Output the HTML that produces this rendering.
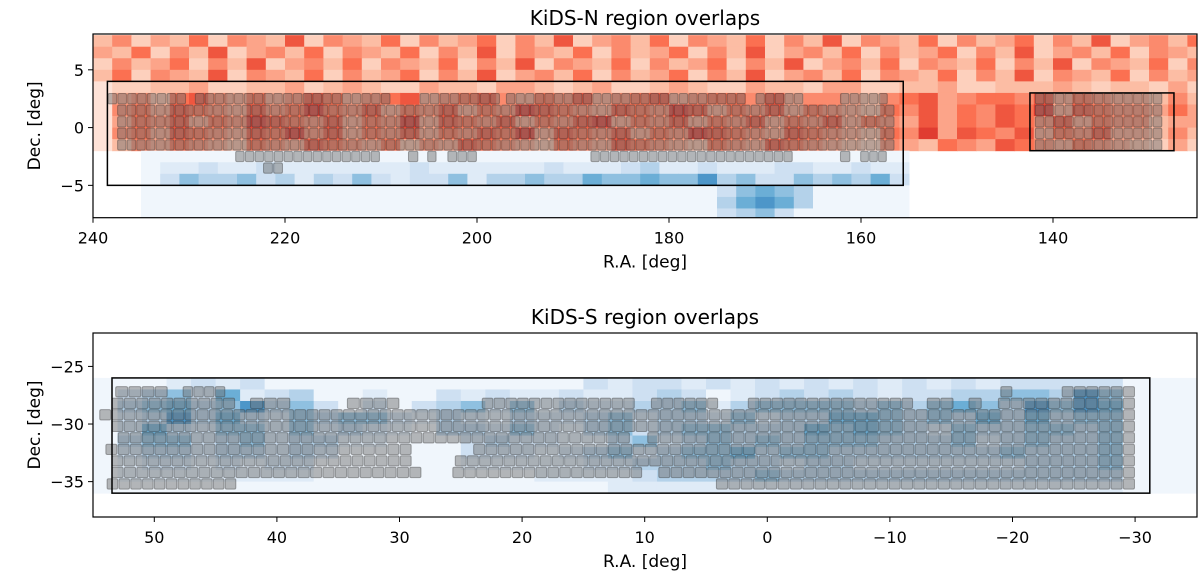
<!DOCTYPE html>
<html><head><meta charset="utf-8"><style>
body{margin:0;background:#fff;width:1200px;height:583px;overflow:hidden}
svg text{font-family:"DejaVu Sans","Liberation Sans",sans-serif;fill:#000}
</style></head><body>
<svg id="fig" width="1200" height="583" viewBox="0 0 1200 583" xmlns="http://www.w3.org/2000/svg"></svg>
<script>
// ---------- data ----------
const nXTicks=[240,220,200,180,160,140];
const nYTicks=[5,0,-5];
const sXTicks=[50,40,30,20,10,0,-10,-20,-30];
const sYTicks=[-25,-30,-35];
// Red (KiDS-N density) rows, each char = 2 deg of RA from 240 downward, rows from Dec 8 down to -2
const redRows=[
"3524362543725436253462537245362543625372543625346253724536",
"4362537245362543625372543625346253724536253462537245362543",
"2534625372453625436253725436253462537245362543625372543625",
"3625437254362534625372453625346253724536254362537254362534",
"1223342233423432243324432342234322433244223342233343233242",
"1453675464576456745675465745674566574554356745665746544353",
"1564765475686574657465876547658746574654365746576847655464",
"1465746587657465847657465784657465746574654746576574655344",
"1564765476857465746576847657465876547654365847657465744353",
"1354654365476546354765436547654365476543254365476546543242"
];
const redDec0=8;   // top row upper edge
// Blue north rows, each char = 2 deg RA from 235 downward, rows Dec -2 to -8
const blueNRows=[
"0000000000000000000000000000000000000000",
"0112112111111121111112111231121112211211",
"0243342313242122413343354454463422434352",
"0000000000000000000000000000002454300000",
"0000000000000000000000000000003565300000",
"0000000000000000000000000000002342000000"
];
const blueNRa0=235, blueNDec0=-2;
// Blue south rows, each char = 2 deg RA from 55 downward, rows Dec -26 to -36
const blueSRows=[
"000121200000000000002122121212121212122222000",
"023425123001002121121123201232321223344364000",
"034534634202023424132233413444434345436465000",
"023635324344213213223423324233554343535344000",
"025324424232103324213423443335454324334434000",
"034423423311000232211342343434443334234334000",
"023323323200000222123423445344333333343334000",
"012212122000000111112233343323322222223334000",
"011111111000000000111123333433333333333333000",
"000000000000000000000111111111111111111111000"
];
const blueSRa0=55, blueSDec0=-26;
// tile segments [decCenter, raStart, raEnd]
const nTiles=[
[2.5,238.5,230.3],[2.5,229.4,209],[2.5,206,197.6],[2.5,197,172],[2.5,171,166],[2.5,162.2,157.2],
[1.5,237.5,156.5],[0.5,237.5,156.5],[-0.5,237.5,156.5],[-1.5,237.5,156.5],
[-2.5,225.2,210.1],[-2.5,207.2,206.1],[-2.5,205.2,204.2],[-2.5,203.1,200],[-2.5,188.2,167.1],[-2.5,162.2,161.1],[-2.5,160.1,157.3],
[-3.5,222.3,220.2],
[2.5,141.9,128.6],[1.5,141.9,128.6],[0.5,141.9,128.6],[-0.5,141.9,128.6],[-1.5,141.9,128.6]
];
const sTiles=[
[-27.2,53.2,48.9],[-27.2,47.7,44.2],[-27.2,-19,-20],[-27.2,-24,-30],
[-28.2,53.5,43.4],[-28.2,42.2,38.9],[-28.2,34.3,30],[-28.2,23.3,10.8],[-28.2,9.5,4],[-28.2,1.6,-11.9],[-28.2,-13,-15.2],[-28.2,-16.4,-17.5],[-28.2,-18.8,-30],
[-29.2,54.5,-30],[-30.2,53.5,-30],[-31.2,53,11.2],[-31.2,9.8,-30],
[-32.2,54,29],[-32.2,24,-30],[-33.2,53.5,29],[-33.2,25.5,-30],
[-34.2,53.5,28.2],[-34.2,25.7,10.2],[-34.2,8.9,-30],
[-35.2,53.9,43.3],[-35.2,4.2,-30]
];
// ---------- helpers ----------
const NS="http://www.w3.org/2000/svg";
const svg=document.getElementById('fig');
function el(tag,attrs,parent){const e=document.createElementNS(NS,tag);for(const k in attrs)e.setAttribute(k,attrs[k]);(parent||svg).appendChild(e);return e;}
function lerpStops(stops,t){t=Math.max(0,Math.min(1,t));for(let i=1;i<stops.length;i++){if(t<=stops[i][0]){const a=stops[i-1],b=stops[i],f=(t-a[0])/(b[0]-a[0]);const c=[0,1,2].map(j=>Math.round(a[1][j]+(b[1][j]-a[1][j])*f));return `rgb(${c})`;}}return `rgb(${stops[stops.length-1][1]})`;}
const REDS=[[0,[255,245,240]],[0.25,[252,187,161]],[0.5,[251,106,74]],[0.75,[203,24,29]],[1,[103,0,13]]];
const BLUES=[[0,[240,246,252]],[0.25,[198,219,239]],[0.5,[107,174,214]],[0.75,[33,113,181]],[1,[8,48,107]]];
const L=93,R=1197;
const axN={x0:L,x1:R,y0:34,y1:217.7,ra0:240,ra1:125,d0:8.1,d1:-7.8};
const axS={x0:L,x1:R,y0:333,y1:517,ra0:55,ra1:-35.05,d0:-22.1,d1:-38.07};
function X(a,ra){return a.x0+(ra-a.ra0)/(a.ra1-a.ra0)*(a.x1-a.x0);}
function Y(a,d){return a.y0+(d-a.d0)/(a.d1-a.d0)*(a.y1-a.y0);}
function makeClip(id,a){const cp=el('clipPath',{id:id});el('rect',{x:a.x0,y:a.y0,width:a.x1-a.x0,height:a.y1-a.y0},cp);}
makeClip('cN',axN);makeClip('cS',axS);
function heat(a,g,rows,ra0,dec0,stops,name,scale){
  rows.forEach((row,r)=>{for(let c=0;c<row.length;c++){
    const v=+row[c];const raA=ra0-2*c,raB=raA-2;const x1=X(a,raA),x2=X(a,raB);
    const e=el('rect',{x:x1,y:Y(a,dec0-r),width:x2-x1+0.5,height:Y(a,dec0-r-1)-Y(a,dec0-r)+0.5,fill:lerpStops(stops,v/9*scale)},g);
    
    
  }});
}
function tiles(a,g,segs){
  segs.forEach(s=>{const [dc,r1,r2]=s;const n=Math.max(1,Math.round(Math.abs(r1-r2)));const step=(r1-r2)/n;
    for(let i=0;i<n;i++){const ra=r1-i*step;const x1=X(a,ra),x2=X(a,ra-step);
      const e=el('rect',{x:x1+0.6,y:Y(a,dc+0.5)+0.6,width:x2-x1-1.2,height:Y(a,dc-0.5)-Y(a,dc+0.5)-1.2,rx:1.5,fill:'rgba(110,110,110,0.48)',stroke:'rgba(50,50,50,0.4)','stroke-width':1},g);
      
      
    }});
}
function box(a,g,ra1,ra2,d1,d2,name){const e=el('rect',{x:X(a,ra1),y:Y(a,d1),width:X(a,ra2)-X(a,ra1),height:Y(a,d2)-Y(a,d1),fill:'none',stroke:'#000','stroke-width':1.5},g);
  
  }
function axes(a,xt,yt,title,nm){
  const f=el('rect',{x:a.x0,y:a.y0,width:a.x1-a.x0,height:a.y1-a.y0,fill:'none',stroke:'#000','stroke-width':1.2});
  
  
  xt.forEach(t=>{const x=X(a,t);el('line',{x1:x,x2:x,y1:a.y1,y2:a.y1+5,stroke:'#000'});
    const tx=el('text',{x:x,y:a.y1+26,'font-size':16,'text-anchor':'middle'});tx.textContent=(t<0?'\u2212'+(-t):t);
    
    });
  yt.forEach(t=>{const y=Y(a,t);el('line',{x1:a.x0-5,x2:a.x0,y1:y,y2:y,stroke:'#000'});
    const tx=el('text',{x:a.x0-9,y:y+6,'font-size':16,'text-anchor':'end'});tx.textContent=(t<0?'\u2212'+(-t):t);
    
    });
  const cx=(a.x0+a.x1)/2;
  const ti=el('text',{x:cx,y:a.y0-9,'font-size':20,'text-anchor':'middle'});ti.textContent=title;
  
  
  const xl=el('text',{x:cx,y:a.y1+50,'font-size':17,'text-anchor':'middle'});xl.textContent='R.A. [deg]';
  
  
  const ym=(a.y0+a.y1)/2;
  const yl=el('text',{x:40,y:ym,'font-size':17,'text-anchor':'middle',transform:`rotate(-90 40 ${ym})`});yl.textContent='Dec. [deg]';
  
  
}
// ---------- north ----------
const gN=el('g',{'clip-path':'url(#cN)'});


heat(axN,gN,redRows,240,redDec0,REDS,'red-density-cell',0.72);
heat(axN,gN,blueNRows,blueNRa0,blueNDec0,BLUES,'blue-density-cell',0.9);
tiles(axN,gN,nTiles);
box(axN,gN,238.5,155.6,4,-5,'kids-n-main-region-box');
box(axN,gN,142.4,127.4,3,-2,'kids-n-secondary-region-box');
axes(axN,nXTicks,nYTicks,'KiDS-N region overlaps','kids-n');
// ---------- south ----------
const gS=el('g',{'clip-path':'url(#cS)'});


heat(axS,gS,blueSRows,blueSRa0,blueSDec0,BLUES,'blue-density-cell',0.9);
tiles(axS,gS,sTiles);
box(axS,gS,53.45,-31.2,-26,-36,'kids-s-region-box');
axes(axS,sXTicks,sYTicks,'KiDS-S region overlaps','kids-s');
</script>
</body></html>
